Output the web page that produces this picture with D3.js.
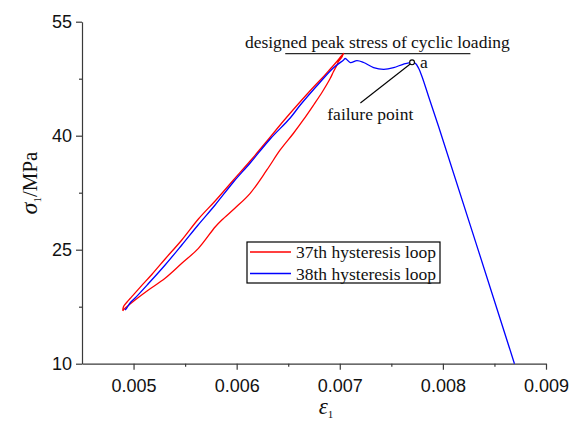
<!DOCTYPE html>
<html>
<head>
<meta charset="utf-8">
<script src="https://cdn.jsdelivr.net/npm/d3@7"></script>
<style>
  html, body { margin: 0; padding: 0; background: #fff; }
  svg { display: block; }
</style>
</head>
<body>
<svg id="chart" width="578" height="422"></svg>
<script>
// Axis ticks
const xMajorTicks = [0.005, 0.006, 0.007, 0.008, 0.009];
const xMinorTicks = [0.0055, 0.0065, 0.0075, 0.0085];
const yMajorTicks = [10, 25, 40, 55];
const yMinorTicks = [17.5, 32.5, 47.5];

// 37th hysteresis loop: loading branch then unloading branch
const loop37Strain = [
  0.004895, 0.004903, 0.004937, 0.004983, 0.005063, 0.005177, 0.005306, 0.005468,
  0.005629, 0.005791, 0.005969, 0.006131, 0.006286, 0.006454, 0.006597, 0.006746,
  0.006830, 0.006908, 0.006976, 0.007015, 0.007037,
  0.007029, 0.007021, 0.006985, 0.006973, 0.006937, 0.006908, 0.006830, 0.006746,
  0.006646, 0.006551, 0.006422, 0.006293, 0.006131, 0.005985, 0.005856, 0.005791,
  0.005629, 0.005468, 0.005306, 0.005144, 0.005015, 0.004917, 0.004895
];
const loop37Stress = [
  16.97, 17.53, 18.12, 18.82, 20.05, 21.74, 23.78, 26.28,
  29.04, 31.41, 34.17, 36.67, 39.17, 41.93, 44.17, 46.41,
  47.59, 48.78, 49.83, 50.49, 50.84,
  50.62, 50.36, 49.70, 49.30, 48.38, 47.55, 45.75, 44.04,
  42.07, 40.32, 38.12, 35.49, 32.42, 30.49, 28.91, 27.99,
  25.18, 23.21, 21.24, 19.70, 18.38, 17.29, 16.97
];

// 38th hysteresis loop: loading up to failure and the post-peak branch
const loop38Strain = [
  0.004917, 0.004934, 0.004966, 0.005015, 0.005141, 0.005306, 0.005468, 0.005626,
  0.005791, 0.005969, 0.006131, 0.006325, 0.006519, 0.006617, 0.006811, 0.006937,
  0.007037, 0.007053, 0.007102, 0.007167, 0.007231, 0.007328, 0.007425, 0.007522,
  0.007619, 0.007701, 0.007733, 0.007765, 0.007798, 0.007862, 0.007959, 0.008694
];
const loop38Stress = [
  17.07, 17.33, 17.99, 18.64, 20.49, 22.99, 25.62, 28.25,
  30.88, 33.91, 36.41, 39.57, 42.33, 44.04, 47.07, 48.91,
  49.96, 50.16, 49.63, 49.87, 49.63, 48.97, 48.74, 48.95,
  49.43, 49.66, 49.53, 48.87, 47.76, 45.13, 41.18, 10.00
];

// Design peak stress and its reference line extent
const designPeak = 50.8;
const designLineStrain = [0.006471, 0.008267];

// Failure point (a) and its label position
const failurePoint = [0.007701, 49.66];
const failureLabelAnchor = [0.00720, 44.3];
const failureLabelPos = [0.007296, 42.07];

const seriesNames = ["37th hysteresis loop", "38th hysteresis loop"];
const seriesColors = ["#ff0000", "#0000ff"];

const width = 578, height = 422;
const margin = { top: 21.7, right: 32, bottom: 58.3, left: 82 };
const innerW = width - margin.left - margin.right;
const innerH = height - margin.top - margin.bottom;

const svg = d3.select("#chart");
const g = svg.append("g").attr("transform", `translate(${margin.left},${margin.top})`);

const x = d3.scaleLinear().domain([0.0045, 0.009]).range([0, innerW]);
const y = d3.scaleLinear().domain([10, 55]).range([innerH, 0]);

const axisColor = "#3a3a3a";
const tickFont = "'Liberation Sans', Arial, Helvetica, sans-serif";
const serif = "'Liberation Serif', 'Times New Roman', Times, serif";

// Bottom axis
const xAxis = g.append("g").attr("transform", `translate(0,${innerH})`)
  .call(d3.axisBottom(x).tickValues(xMajorTicks).tickSize(6).tickSizeOuter(0)
    .tickFormat(d3.format(".3f")));
g.append("g").attr("transform", `translate(0,${innerH})`)
  .call(d3.axisBottom(x).tickValues(xMinorTicks).tickSize(3).tickSizeOuter(0).tickFormat(""))
  .select(".domain").remove();

// Left axis
const yAxis = g.append("g")
  .call(d3.axisLeft(y).tickValues(yMajorTicks).tickSize(6).tickSizeOuter(0));
g.append("g")
  .call(d3.axisLeft(y).tickValues(yMinorTicks).tickSize(3).tickSizeOuter(0).tickFormat(""))
  .select(".domain").remove();

g.selectAll(".domain, .tick line").attr("stroke", axisColor).attr("stroke-width", 1.2);
xAxis.selectAll(".tick text")
  .attr("font-family", tickFont).attr("font-size", 18).attr("fill", "#111")
  .attr("dy", null).attr("y", 0).attr("transform", "translate(0,28)");
yAxis.selectAll(".tick text")
  .attr("font-family", tickFont).attr("font-size", 18).attr("fill", "#111")
  .attr("x", -10);

// Axis titles
const yTitle = svg.append("text")
  .attr("transform", `translate(37,${183}) rotate(-90)`)
  .attr("text-anchor", "middle")
  .attr("font-family", serif).attr("font-size", 21).attr("fill", "#111");
yTitle.append("tspan").attr("font-style", "italic").attr("font-size", 24).text("σ");
yTitle.append("tspan").attr("font-size", 11).attr("dy", 4).text("1");
yTitle.append("tspan").attr("dy", -4).text("/MPa");

const xTitle = svg.append("text")
  .attr("x", 326).attr("y", 414)
  .attr("text-anchor", "middle")
  .attr("font-family", serif).attr("font-size", 21).attr("fill", "#111");
xTitle.append("tspan").attr("font-style", "italic").attr("font-size", 23).text("ε");
xTitle.append("tspan").attr("font-size", 11).attr("dy", 4).text("1");

// Design peak reference line and caption
g.append("line")
  .attr("x1", x(designLineStrain[0])).attr("x2", x(designLineStrain[1]))
  .attr("y1", y(designPeak)).attr("y2", y(designPeak))
  .attr("stroke", "#2a2a2a").attr("stroke-width", 1.3);
g.append("text")
  .attr("x", x((designLineStrain[0] + designLineStrain[1]) / 2) - 0.5)
  .attr("y", y(designPeak) - 5.5)
  .attr("text-anchor", "middle")
  .attr("font-family", serif).attr("font-size", 17.5).attr("fill", "#111")
  .text("designed peak stress of cyclic loading");

// Curves
const line = d3.line().x(d => x(d[0])).y(d => y(d[1])).curve(d3.curveCatmullRom.alpha(0.5));
const series = [
  d3.zip(loop37Strain, loop37Stress),
  d3.zip(loop38Strain, loop38Stress)
];
g.selectAll("path.curve").data(series).join("path")
  .attr("class", "curve")
  .attr("d", line)
  .attr("fill", "none")
  .attr("stroke", (d, i) => seriesColors[i])
  .attr("stroke-width", 1.3)
  .attr("stroke-linejoin", "round");

// Failure point leader, marker and labels
g.append("line")
  .attr("x1", x(failurePoint[0]) - 1.5).attr("y1", y(failurePoint[1]) + 1.5)
  .attr("x2", x(failureLabelAnchor[0])).attr("y2", y(failureLabelAnchor[1]))
  .attr("stroke", "#000").attr("stroke-width", 1.1);
g.append("circle")
  .attr("cx", x(failurePoint[0])).attr("cy", y(failurePoint[1])).attr("r", 2.4)
  .attr("fill", "#fff").attr("stroke", "#000").attr("stroke-width", 1.1);
g.append("text")
  .attr("x", x(failurePoint[0]) + 8).attr("y", y(failurePoint[1]) + 6)
  .attr("font-family", serif).attr("font-size", 17.5).attr("fill", "#111")
  .text("a");
g.append("text")
  .attr("x", x(failureLabelPos[0])).attr("y", y(failureLabelPos[1]))
  .attr("text-anchor", "middle")
  .attr("font-family", serif).attr("font-size", 17.5).attr("fill", "#111")
  .text("failure point");

// Legend
const legend = svg.append("g").attr("transform", "translate(247,242)");
legend.append("rect").attr("width", 193).attr("height", 41)
  .attr("fill", "#fff").attr("stroke", "#000").attr("stroke-width", 1.2);
seriesNames.forEach((name, i) => {
  const ly = 10 + i * 21.5;
  legend.append("line").attr("x1", 3).attr("x2", 44).attr("y1", ly).attr("y2", ly)
    .attr("stroke", seriesColors[i]).attr("stroke-width", 1.3);
  legend.append("text").attr("x", 49).attr("y", ly + 6)
    .attr("font-family", serif).attr("font-size", 17.5).attr("fill", "#111")
    .text(name);
});
</script>
</body>
</html>
